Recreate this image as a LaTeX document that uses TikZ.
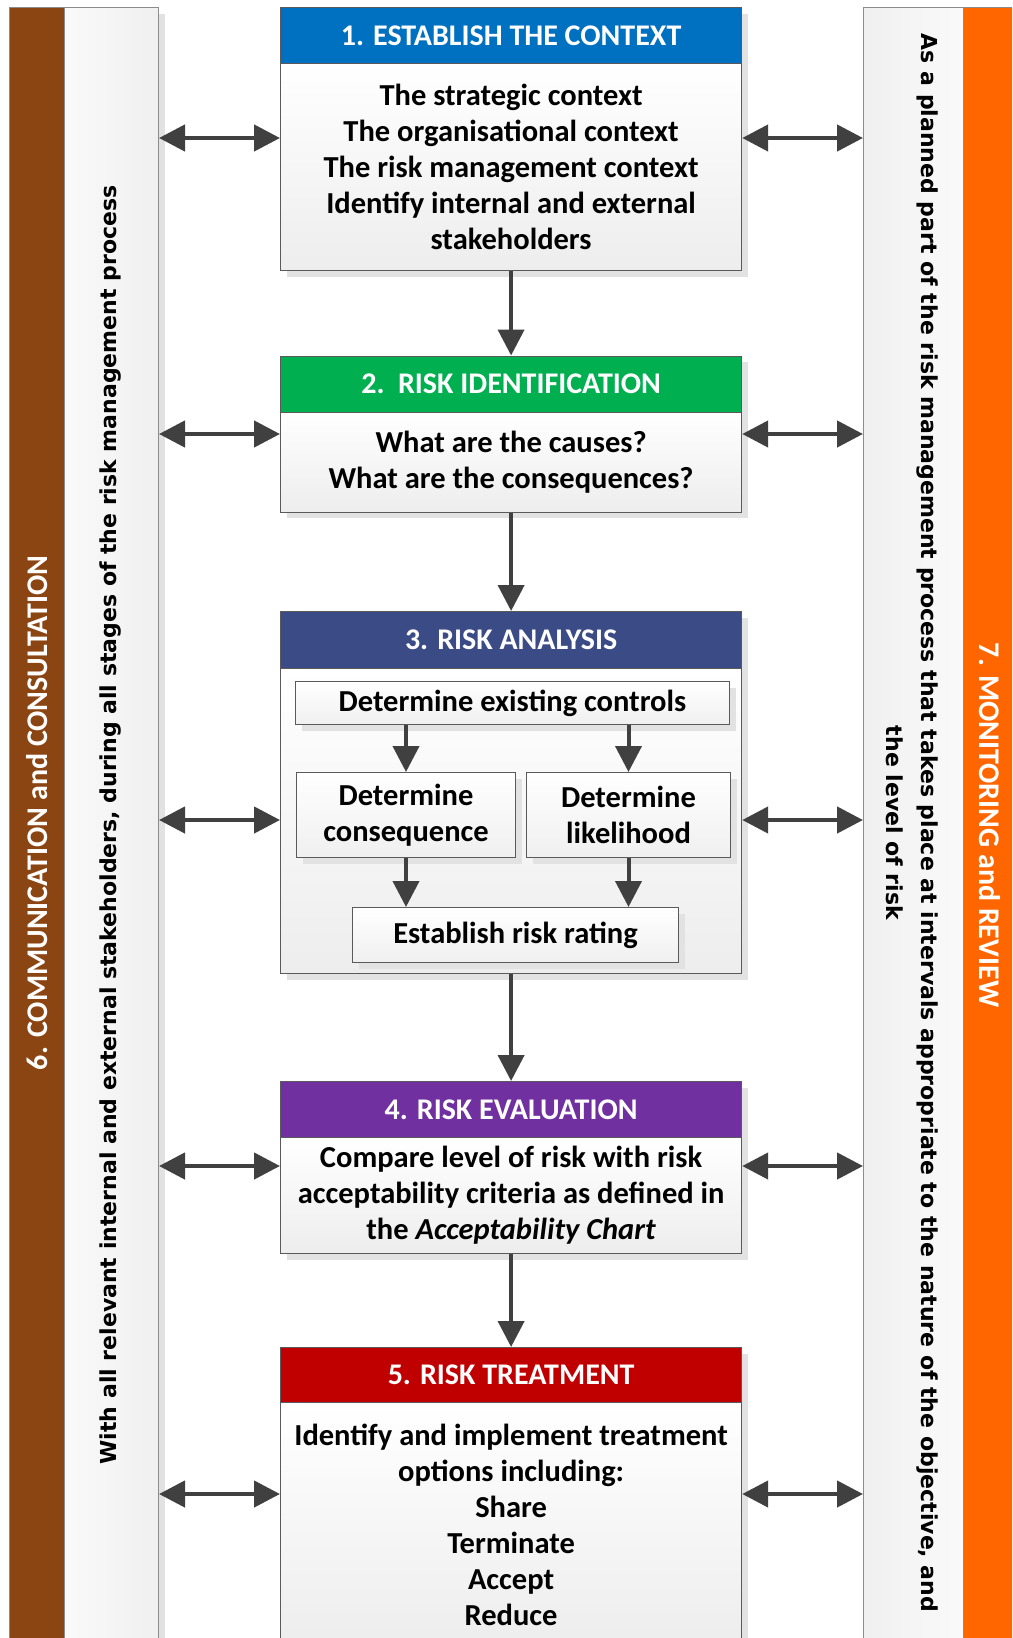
\documentclass[tikz,border=0pt]{standalone}
\usepackage{fontspec}
\setmainfont{Carlito}
\newfontfamily\sidefont{DejaVu Sans}
\usetikzlibrary{arrows.meta,shadows,calc}
\definecolor{cbrown}{HTML}{8B4513}
\definecolor{corange}{HTML}{FF6600}
\definecolor{cblue}{HTML}{0070C0}
\definecolor{cgreen}{HTML}{00B050}
\definecolor{cnavy}{HTML}{3A4B86}
\definecolor{cpurple}{HTML}{7030A0}
\definecolor{cred}{HTML}{C00000}
\definecolor{carrow}{HTML}{404040}
\definecolor{cborder}{HTML}{5A5A5A}
\definecolor{cshadow}{HTML}{E2E2E2}
\tikzset{
  shad/.style={drop shadow={shadow xshift=6pt, shadow yshift=-6pt, fill=cshadow, opacity=1}},
  hdr/.style={draw=cborder, line width=1.2pt, minimum width=461pt, inner sep=0pt,
    text=white, anchor=north west, font=\bfseries\fontsize{30}{36}\selectfont, shad},
  bodybox/.style={draw=cborder, line width=1.2pt, top color=white, bottom color=black!7,
    minimum width=461pt, inner sep=0pt, anchor=north west, align=center,
    font=\bfseries\fontsize{30.5}{36}\selectfont, shad},
  innerbox/.style={draw=cborder, line width=1pt, top color=white, bottom color=black!6,
    inner sep=0pt, anchor=north west, align=center,
    font=\bfseries\fontsize{30.5}{36}\selectfont, shad},
  panel/.style={draw=black!45, line width=1pt, inner sep=0pt, anchor=north west},
  dbl/.style={draw=carrow, line width=4.5pt,
    {Triangle[length=26pt,width=26pt]}-{Triangle[length=26pt,width=26pt]}},
  down/.style={draw=carrow, line width=4pt, -{Triangle[length=26pt,width=26pt]}},
  sidetext/.style={font=\sidefont\bfseries\fontsize{22}{35}\selectfont, align=center, inner sep=0pt},
  bartext/.style={text=white, font=\bfseries\fontsize{30}{36}\selectfont, inner sep=0pt}
}
\begin{document}
\begin{tikzpicture}[x=1pt,y=-1pt]
\useasboundingbox (0,0) rectangle (1012,1638);
\clip (0,0) rectangle (1012,1638);
\fill[white] (0,0) rectangle (1012,1638);
% side panels
\node[panel, fill=cbrown, minimum width=55pt, minimum height=1700pt] (lbar) at (9,7) {};
\node[panel, left color=black!2, right color=black!6, minimum width=94pt, minimum height=1700pt, shad] (lp) at (64,7) {};
\node[panel, left color=black!6, right color=black!2, minimum width=100pt, minimum height=1700pt] (rp) at (863,7) {};
\node[panel, fill=corange, minimum width=60pt, minimum height=1700pt] (rbar) at (963,7) {};
\node[bartext, rotate=90] (t6) at (37,813) {6. COMMUNICATION and CONSULTATION};
\node[sidetext, rotate=90] (tl) at (111,825) {With all relevant internal and external stakeholders, during all stages of the risk management process};
\node[bartext, rotate=-90] (t7) at (990,825) {7. MONITORING and REVIEW};
\node[sidetext, rotate=-90] (tr) at (912.5,823) {As a planned part of the risk management process that takes place at intervals appropriate to the nature of the objective, and\\the level of risk};
% box 1
\node[hdr, fill=cblue, minimum height=56pt] (h1) at (280,7) {1. ESTABLISH THE CONTEXT};
\node[bodybox, minimum height=207pt] (b1) at (280,63) {The strategic context\\The organisational context\\The risk management context\\Identify internal and external\\stakeholders};
% box 2
\node[hdr, fill=cgreen, minimum height=56pt] (h2) at (280,355.5) {2.\ \ RISK IDENTIFICATION};
\node[bodybox, minimum height=100pt] (b2) at (280,411.5) {What are the causes?\\What are the consequences?};
% box 3
\node[hdr, fill=cnavy, minimum height=57pt] (h3) at (280,611) {3. RISK ANALYSIS};
\node[bodybox, minimum height=305pt] (b3) at (280,668) {};
\node[innerbox, minimum width=434pt, minimum height=43pt] (dec) at (295,681) {Determine existing controls};
\node[innerbox, minimum width=219pt, minimum height=85pt] (dcons) at (296,772) {Determine\\consequence};
\node[innerbox, minimum width=204pt, minimum height=85pt] (dlik) at (526,772) {Determine\\likelihood};
\node[innerbox, minimum width=326pt, minimum height=55pt] (err) at (352,907) {Establish risk rating};
% box 4
\node[hdr, fill=cpurple, minimum height=56pt] (h4) at (280,1081) {4. RISK EVALUATION};
\node[bodybox, minimum height=116pt] (b4) at (280,1137) {Compare level of risk with risk\\acceptability criteria as defined in\\the \textit{Acceptability Chart}};
% box 5
\node[hdr, fill=cred, minimum height=55pt] (h5) at (280,1347) {5. RISK TREATMENT};
\node[bodybox, minimum height=244pt] (b5) at (280,1402) {Identify and implement treatment\\options including:\\Share\\Terminate\\Accept\\Reduce};
% vertical flow arrows
\draw[down] (b1.south) -- (h2.north);
\draw[down] (b2.south) -- (h3.north);
\draw[down] (b3.south) -- (h4.north);
\draw[down] (b4.south) -- (h5.north);
\draw[down] (dec.south -| dcons.north) -- (dcons.north);
\draw[down] (dec.south -| dlik.north) -- (dlik.north);
\draw[down] (dcons.south) -- (dcons.south |- err.north);
\draw[down] (dlik.south) -- (dlik.south |- err.north);
% side arrows
\coordinate (a1) at (0,138);
\coordinate (a2) at (0,434);
\coordinate (a3) at (0,820);
\coordinate (a4) at (0,1166);
\coordinate (a5) at (0,1494);
\foreach \a/\b in {a1/b1,a2/b2,a3/b3,a4/b4,a5/b5}{
  \draw[dbl] (lp.east |- \a) -- (\b.west |- \a);
  \draw[dbl] (\b.east |- \a) -- (rp.west |- \a);
}
\end{tikzpicture}
\end{document}
